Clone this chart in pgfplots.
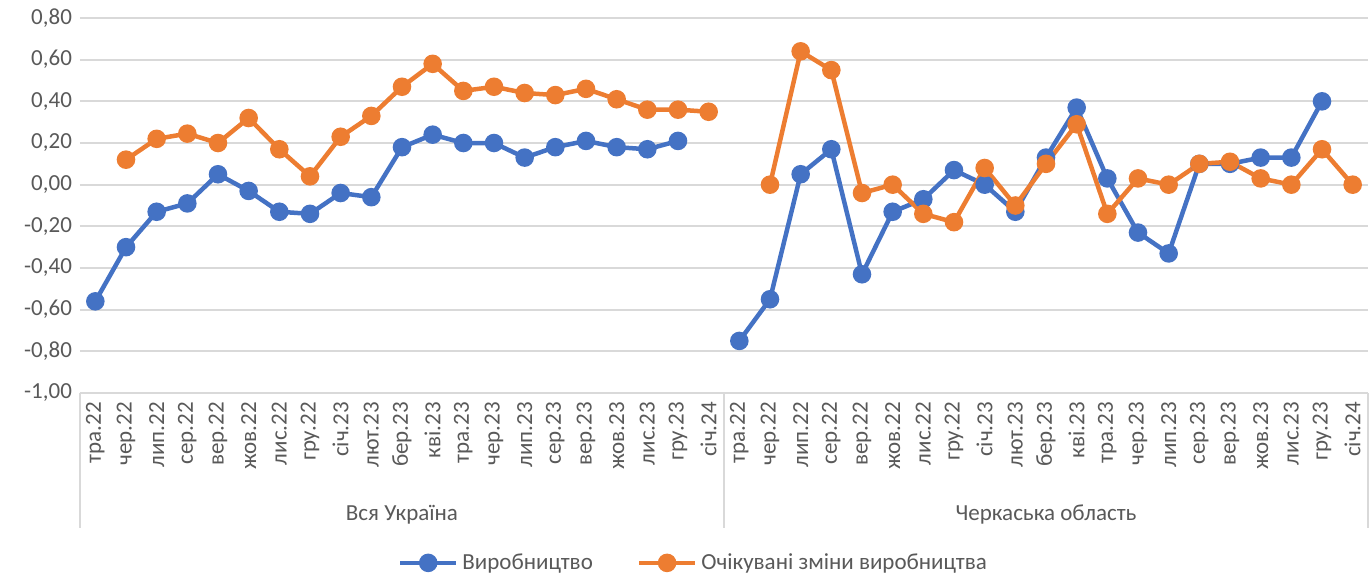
\documentclass[border=0pt]{standalone}
\usepackage{pgfplots}
\pgfplotsset{compat=1.18}
\usepackage{pgfplotstable}
\usepackage{fontspec}
\setmainfont{Carlito}
\definecolor{cblue}{HTML}{4472C4}
\definecolor{corange}{HTML}{ED7D31}
\definecolor{ctext}{HTML}{595959}
\definecolor{cgrid}{HTML}{D9D9D9}

\pgfplotstableread{
x prod exp
0 -0.56 nan
1 -0.30 0.12
2 -0.13 0.22
3 -0.09 0.245
4 0.05 0.20
5 -0.03 0.32
6 -0.13 0.17
7 -0.14 0.04
8 -0.04 0.23
9 -0.06 0.33
10 0.18 0.47
11 0.24 0.58
12 0.20 0.45
13 0.20 0.47
14 0.13 0.44
15 0.18 0.43
16 0.21 0.46
17 0.18 0.41
18 0.17 0.36
19 0.21 0.36
20 nan 0.35
21 -0.75 nan
22 -0.55 0.00
23 0.05 0.64
24 0.17 0.55
25 -0.43 -0.04
26 -0.13 0.00
27 -0.07 -0.14
28 0.07 -0.18
29 0.00 0.08
30 -0.13 -0.10
31 0.13 0.10
32 0.37 0.29
33 0.03 -0.14
34 -0.23 0.03
35 -0.33 0.00
36 0.10 0.10
37 0.10 0.11
38 0.13 0.03
39 0.13 0.00
40 0.40 0.17
41 nan 0.00
}\datatable

\begin{document}
\begin{tikzpicture}
\useasboundingbox (-40pt,-93pt) rectangle (645pt,196.5pt);
\begin{axis}[
  scale only axis,
  width=644pt, height=187.5pt,
  xmin=-0.5, xmax=41.5,
  ymin=-1, ymax=0.8,
  clip=false,
  ytick={-1,-0.8,...,0.81},
  xtick={0,...,41},
  xticklabels={тра.22,чер.22,лип.22,сер.22,вер.22,жов.22,лис.22,гру.22,січ.23,лют.23,бер.23,кві.23,тра.23,чер.23,лип.23,сер.23,вер.23,жов.23,лис.23,гру.23,січ.24,
               тра.22,чер.22,лип.22,сер.22,вер.22,жов.22,лис.22,гру.22,січ.23,лют.23,бер.23,кві.23,тра.23,чер.23,лип.23,сер.23,вер.23,жов.23,лис.23,гру.23,січ.24},
  major tick length=0pt,
  axis line style={draw=none},
  ymajorgrids,
  grid style={cgrid, line width=1pt},
  unbounded coords=jump,
  /pgf/number format/.cd, use comma, fixed, fixed zerofill, precision=2, assume math mode=true,
  /pgfplots/.cd,
  tick label style={font=\fontsize{11.5}{13}\selectfont, text=ctext},
  xticklabel style={rotate=90, anchor=east, xshift=-1pt},
  yticklabel style={xshift=-0.5pt},
  legend style={draw=none, at={(0.477,-0.453)}, anchor=center, font=\fontsize{11.5}{13}\selectfont, text=ctext,
     /tikz/every even column/.append style={column sep=20pt}},
  legend columns=2,
  legend image code/.code={\draw[mark repeat=2,mark phase=2] plot coordinates {(0pt,0pt) (14pt,0pt) (28pt,0pt)};},
]
\addplot[cblue, line width=2.25pt, mark=*, mark size=3.5pt] table[x=x,y=prod] {\datatable};
\addlegendentry{Виробництво}
\addplot[corange, line width=2.25pt, mark=*, mark size=3.5pt] table[x=x,y=exp] {\datatable};
\addlegendentry{Очікувані зміни виробництва}
\draw[cgrid, line width=1pt] (axis cs:-0.5,-1) -- ([yshift=-67.5pt]axis cs:-0.5,-1);
\draw[cgrid, line width=1pt] (axis cs:20.5,-1) -- ([yshift=-67.5pt]axis cs:20.5,-1);
\draw[cgrid, line width=1pt] (axis cs:41.5,-1) -- ([yshift=-67.5pt]axis cs:41.5,-1);
\node[text=ctext, font=\fontsize{11.5}{13}\selectfont] at ([yshift=-61pt]axis cs:10,-1) {Вся Україна};
\node[text=ctext, font=\fontsize{11.5}{13}\selectfont] at ([yshift=-61pt]axis cs:31,-1) {Черкаська область};
\end{axis}
\end{tikzpicture}
\end{document}
